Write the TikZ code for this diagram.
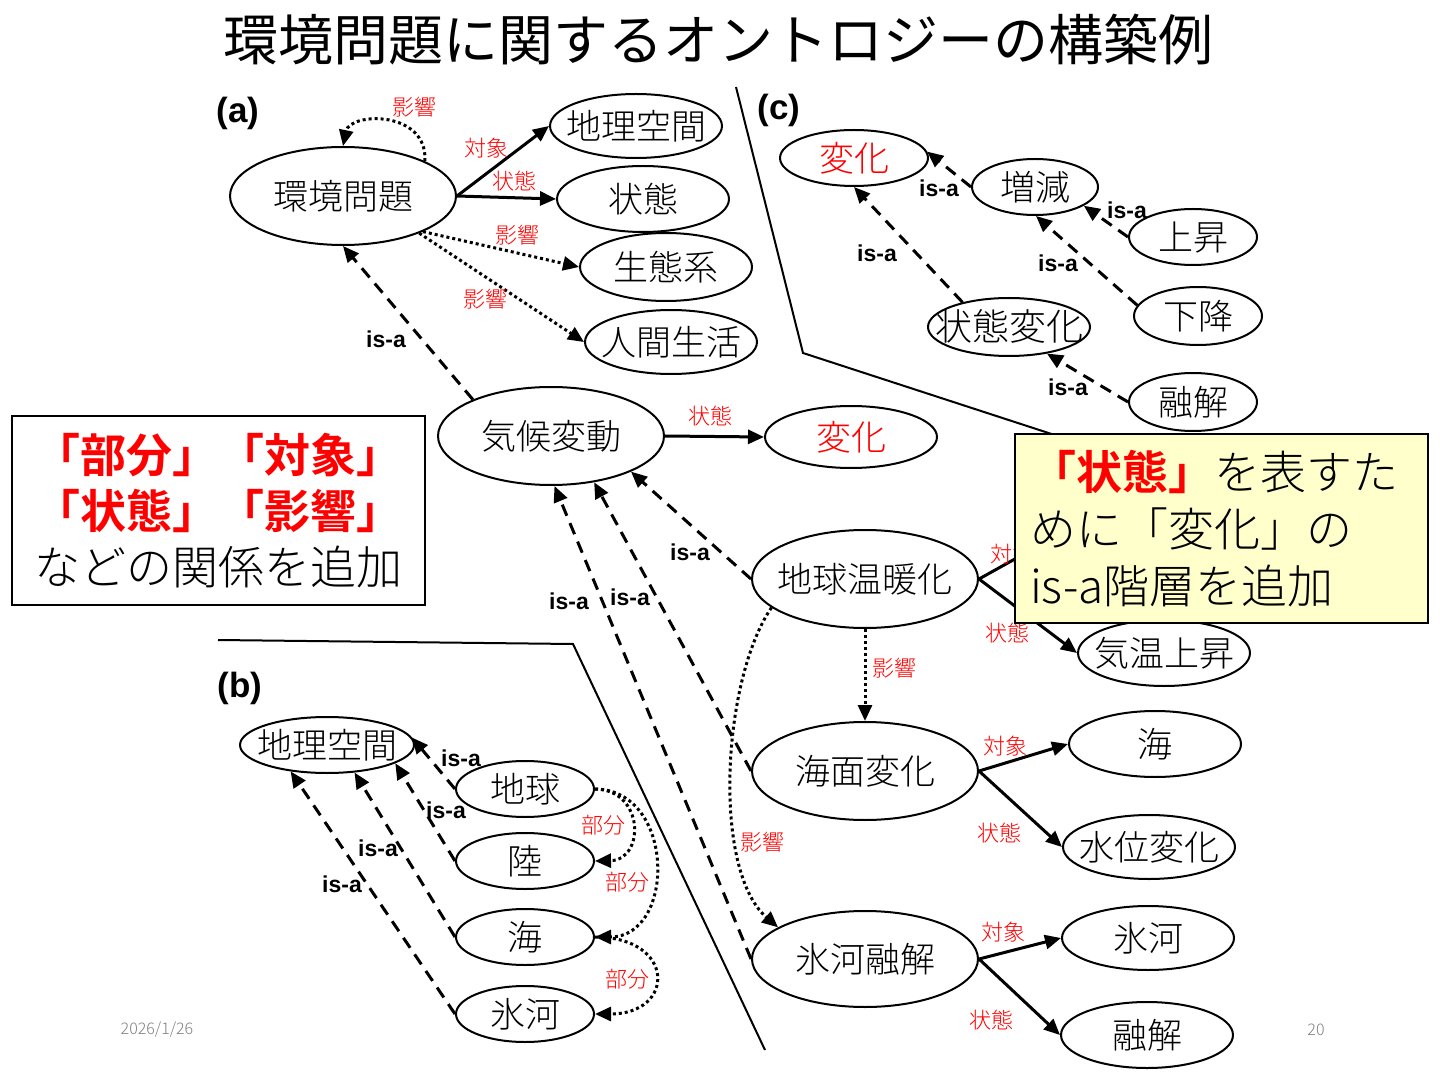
\documentclass[tikz,border=0pt]{standalone}
\usepackage{fontspec}
\setmainfont{Noto Sans CJK JP}[BoldFont={Noto Sans CJK JP Bold}]
\newfontfamily\lt{Noto Sans CJK JP Light}
\newfontfamily\lat{Liberation Sans}
\usetikzlibrary{arrows.meta,shapes.geometric}
\newcommand{\nt}[1]{\raisebox{-0.38em}[0pt][0pt]{\makebox[0pt]{#1}}}
\begin{document}
\begin{tikzpicture}[x=0.5pt,y=-0.5pt,
  ell/.style 2 args={draw, ellipse, line width=1pt, inner sep=0pt, minimum width=#1pt, minimum height=#2pt, font=\lt\fontsize{17.5}{20}\selectfont},
  rel/.style={-{Triangle[length=8pt,width=7pt]}, line width=1.5pt},
  isa/.style={rel, dash pattern=on 6pt off 4pt},
  inf/.style={rel, dash pattern=on 1.5pt off 1.5pt},
  rlab/.style={text=red, inner sep=0pt, font=\lt\fontsize{11}{12}\selectfont},
  ilab/.style={inner sep=0pt, font=\lat\bfseries\fontsize{11.5}{12}\selectfont},
  plab/.style={inner sep=0pt, font=\lat\bfseries\fontsize{17.5}{20}\selectfont},
  divl/.style={line width=1pt}]
\useasboundingbox (0,0) rectangle (1440,1080);
\fill[white] (0,0) rectangle (1440,1080);

% title
\node[inner sep=0pt, font=\fontsize{27.5}{30}\selectfont] (title) at (718,40) {環境問題に関するオントロジーの構築例};

% dividers
\draw[divl] (736,87) -- (803,353) -- (1070,440);
\draw[divl] (218,640) -- (573,644) -- (765,1050);

% panel labels
\node[plab] (pa) at (238,113) {(a)};
\node[plab] (pc) at (779,110) {(c)};
\node[plab] (pb) at (240,688) {(b)};

% (a) nodes
\node[ell={113}{49}] (kk) at (343,196) {\nt{環境問題}};
\node[ell={86}{32}] (gsa) at (636,126) {\nt{地理空間}};
\node[ell={86}{33}] (jt) at (643,199) {\nt{状態}};
\node[ell={86}{34}] (st) at (666,267) {\nt{生態系}};
\node[ell={86}{32}] (nk) at (671,342) {\nt{人間生活}};
\node[ell={113}{49}] (kdo) at (551,436) {\nt{気候変動}};
\node[ell={86}{31}] (hk) at (851,437) {\nt{\textcolor{red}{変化}}};
\node[ell={113}{49}] (ond) at (865,579) {\nt{地球温暖化}};
\node[ell={86}{33}] (kion) at (1164,653) {\nt{気温上昇}};
\node[ell={113}{49}] (kmn) at (865,771) {\nt{海面変化}};
\node[ell={86}{33}] (umi) at (1155,744) {\nt{海}};
\node[ell={86}{32}] (suii) at (1149,847) {\nt{水位変化}};
\node[ell={113}{48}] (hgy) at (865,959) {\nt{氷河融解}};
\node[ell={86}{32}] (hg) at (1148,938) {\nt{氷河}};
\node[ell={86}{33}] (yk) at (1147,1035) {\nt{融解}};

% (c) nodes
\node[ell={74}{28}] (hkc) at (854,158) {\nt{\textcolor{red}{変化}}};
\node[ell={63}{28}] (zg) at (1035,187) {\nt{増減}};
\node[ell={64}{28}] (js) at (1193,237) {\nt{上昇}};
\node[ell={64}{29}] (kko) at (1198,316) {\nt{下降}};
\node[ell={81}{29}] (jh) at (1009,327) {\nt{\fontsize{18.5}{20}\selectfont 状態変化}};
\node[ell={64}{29}] (ykc) at (1193,402) {\nt{融解}};

% (b) nodes
\node[ell={87}{28}] (gsb) at (327,745) {\nt{地理空間}};
\node[ell={69}{28}] (chk) at (525,789) {\nt{地球}};
\node[ell={69}{28}] (rk) at (525,861) {\nt{陸}};
\node[ell={69}{28}] (umb) at (525,937) {\nt{海}};
\node[ell={69}{28}] (hgb) at (525,1014) {\nt{氷河}};

% (a) edges
\draw[rel] (kk.east) -- (gsa.west);
\draw[rel] (kk.east) -- (jt.west);
\draw[inf] (kk.-24) -- (st.west);
\draw[inf] (kk.-26) -- (nk.west);
\draw[inf] (kk.23) .. controls (428,110) and (350,112) .. (kk.north);
\draw[isa] (kdo.155) -- (kk.south);
\draw[rel] (kdo.east) -- (hk.west);
\draw[isa] (ond.west) -- (kdo.-24);
\draw[isa] (kmn.west) -- (kdo.-47);
\draw[isa] (hgy.west) -- (kdo.-86);
\draw[inf] (ond.south) -- (kmn.north);
\draw[inf] (ond.-163) .. controls (722,680) and (712,870) .. (hgy.160);
\coordinate (hid) at (1040,545);
\draw[rel] (ond.east) -- (hid);
\draw[rel] (ond.east) -- (kion.west);
\draw[rel] (kmn.east) -- (umi.west);
\draw[rel] (kmn.east) -- (suii.west);
\draw[rel] (hgy.east) -- (hg.west);
\draw[rel] (hgy.east) -- (yk.west);

% (c) edges
\draw[isa] (zg.west) -- (hkc.5);
\draw[isa] (jh.152) -- (hkc.south);
\draw[isa] (js.west) -- (zg.-21);
\draw[isa] (kko.170) -- (zg.-88);
\draw[isa] (ykc.west) -- (jh.-35);

% (b) edges
\draw[isa] (chk.west) -- (gsb.5);
\draw[isa] (rk.west) -- (gsb.-15);
\draw[isa] (umb.west) -- (gsb.-45);
\draw[isa] (hgb.west) -- (gsb.-144);
\draw[inf] (chk.east) .. controls (645,790) and (645,860) .. (rk.east);
\draw[inf] (chk.east) .. controls (676,790) and (676,937) .. (umb.east);
\draw[inf] (umb.east) .. controls (676,937) and (676,1014) .. (hgb.east);

% red labels
\node[rlab] (r1) at (414,107) {影響};
\node[rlab] (r2) at (486,148) {対象};
\node[rlab] (r3) at (514,181) {状態};
\node[rlab] (r4) at (517,235) {影響};
\node[rlab] (r5) at (485,299) {影響};
\node[rlab] (r6) at (710,416) {状態};
\node[rlab] (r7) at (1012,554) {対象};
\node[rlab] (r8) at (1007,633) {状態};
\node[rlab] (r9) at (894,668) {影響};
\node[rlab] (r10) at (762,842) {影響};
\node[rlab] (r11) at (1005,746) {対象};
\node[rlab] (r12) at (999,833) {状態};
\node[rlab] (r13) at (1003,932) {対象};
\node[rlab] (r14) at (991,1020) {状態};
\node[rlab] (r15) at (603,825) {部分};
\node[rlab] (r16) at (627,882) {部分};
\node[rlab] (r17) at (627,979) {部分};

% is-a labels
\node[ilab] (i1) at (386,339) {is-a};
\node[ilab] (i2) at (690,552) {is-a};
\node[ilab] (i3) at (630,597) {is-a};
\node[ilab] (i4) at (569,601) {is-a};
\node[ilab] (i5) at (939,188) {is-a};
\node[ilab] (i6) at (877,253) {is-a};
\node[ilab] (i7) at (1127,210) {is-a};
\node[ilab] (i8) at (1058,263) {is-a};
\node[ilab] (i9) at (1068,387) {is-a};
\node[ilab] (i10) at (461,758) {is-a};
\node[ilab] (i11) at (446,810) {is-a};
\node[ilab] (i12) at (378,848) {is-a};
\node[ilab] (i13) at (342,884) {is-a};

% boxes
\node[draw, fill=white, line width=1pt, minimum width=206.5pt, minimum height=94.5pt, inner sep=0pt, align=center, font=\fontsize{23}{28}\selectfont] (lbox) at (218.5,510.5)
 {\textcolor{red}{\bfseries 「部分」「対象」}\\ \textcolor{red}{\bfseries 「状態」「影響」}\\ {\lt などの関係を追加}};
\node[draw, fill={rgb,255:red,255;green,255;blue,204}, line width=1pt, minimum width=206.5pt, minimum height=94.5pt, inner xsep=7.5pt, inner ysep=0pt, text width=191.5pt, align=left, font=\fontsize{23}{28.5}\selectfont] (ybox) at (1221.5,528.5)
 {\textcolor{red}{\bfseries 「状態」}{\lt を表すた}\\ {\lt めに「変化」の}\\ {\lt is-a階層を追加}};

% footer
\node[text=gray, inner sep=0pt, font=\lt\fontsize{8}{9}\selectfont] (date) at (157,1030) {2026/1/26};
\node[text=gray, inner sep=0pt, font=\lt\fontsize{8}{9}\selectfont] (pg) at (1316,1030) {20};
\end{tikzpicture}
\end{document}
